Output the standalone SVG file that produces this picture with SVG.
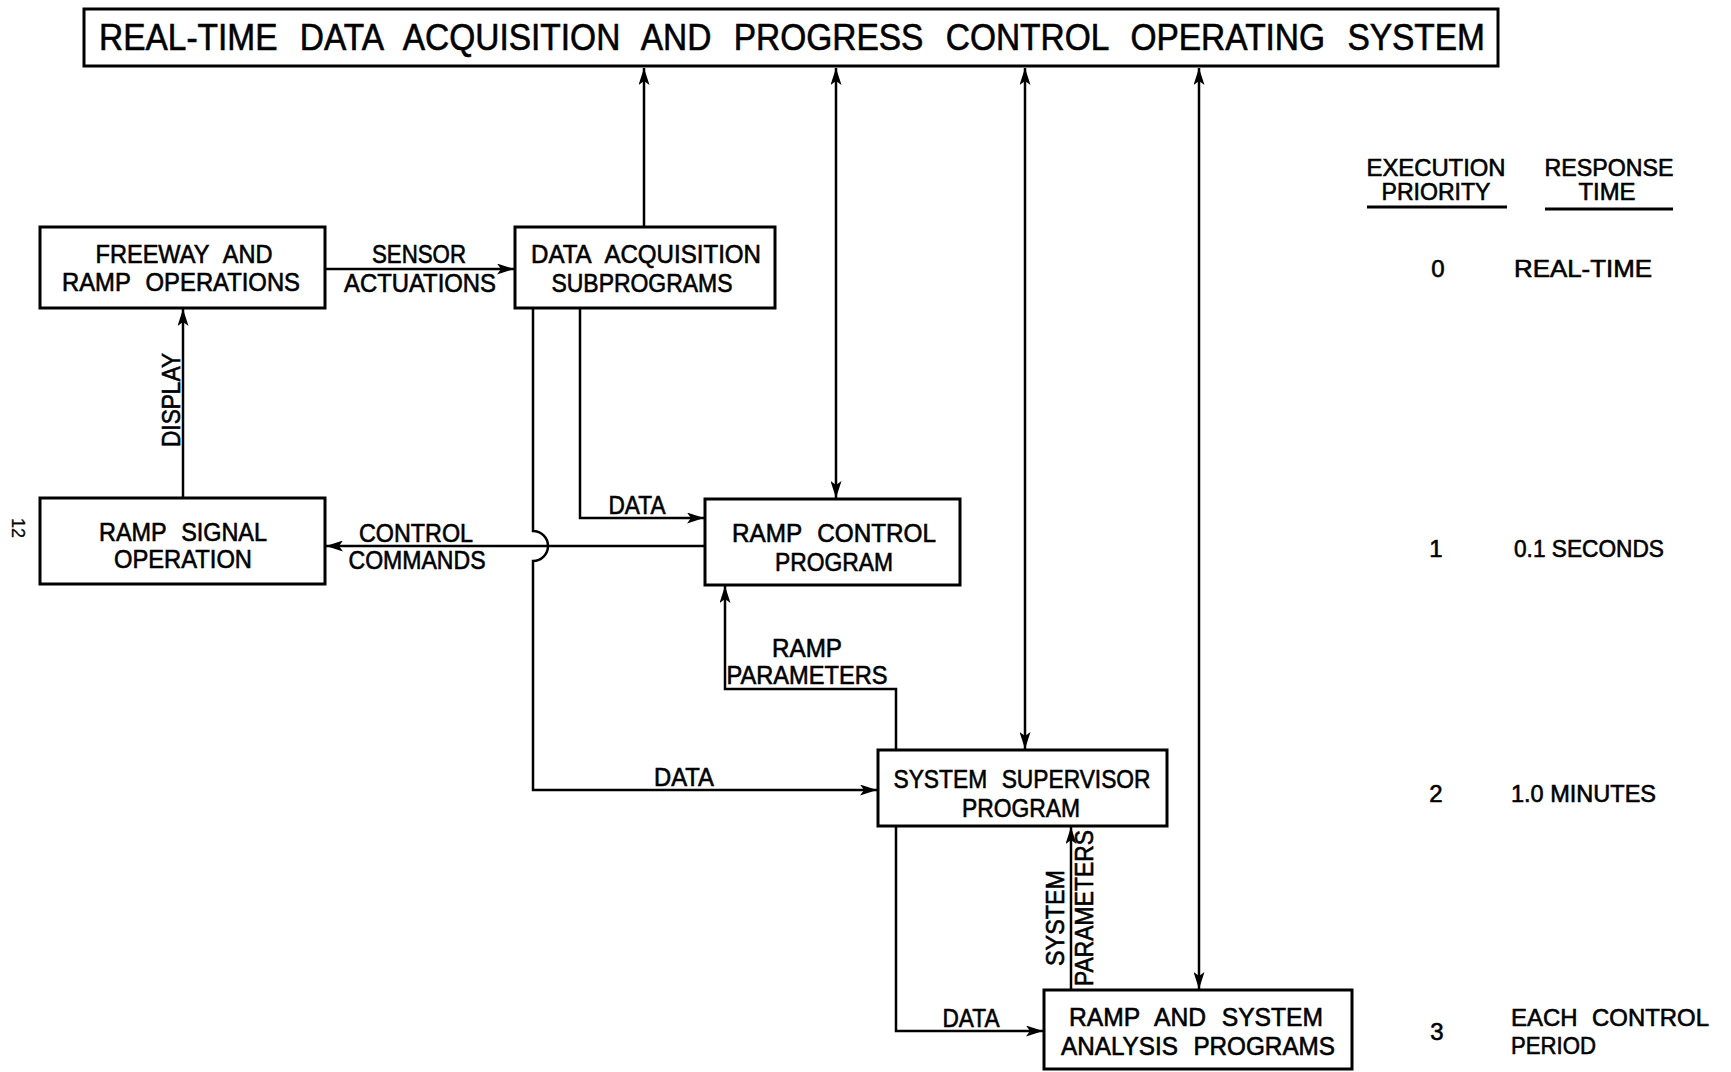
<svg xmlns="http://www.w3.org/2000/svg" width="1731" height="1072" viewBox="0 0 1731 1072">
  <style>
    .box { fill: #fff; stroke: #000; stroke-width: 3; }
    .ln { fill: none; stroke: #000; stroke-width: 2.5; }
    .rule { stroke: #000; stroke-width: 3; }
    text { font-family: "Liberation Sans", Arial, sans-serif; fill: #000; stroke: #000; stroke-width: 0.6; }
    .t { font-size: 25px; text-anchor: middle; word-spacing: 9px; }
    .title { font-size: 36px; text-anchor: middle; word-spacing: 14px; }
    .tb { font-size: 24px; word-spacing: 8px; }
    .tight { word-spacing: 0; }
    .mid { text-anchor: middle; }
    .pg { font-size: 18px; text-anchor: middle; stroke-width: 0.3; }
  </style>
  <defs>
    <marker id="ah" viewBox="0 0 17 11" refX="17" refY="5.5" markerWidth="17" markerHeight="11" markerUnits="userSpaceOnUse" orient="auto-start-reverse">
      <path d="M0,0 L17,5.5 L0,11 L4,5.5 z" fill="#000"/>
    </marker>
  </defs>

  <rect width="1731" height="1072" fill="#fff"/>

  <!-- connectors and their labels -->
  <g id="connectors">
    <path class="ln" d="M644,227 V68" marker-end="url(#ah)"/>
    <path class="ln" d="M836,68 V498" marker-start="url(#ah)" marker-end="url(#ah)"/>
    <path class="ln" d="M1025,68 V749" marker-start="url(#ah)" marker-end="url(#ah)"/>
    <path class="ln" d="M1199,68 V989" marker-start="url(#ah)" marker-end="url(#ah)"/>
    <path class="ln" d="M325,269 H514" marker-end="url(#ah)"/>
    <path class="ln" d="M183,498 V309" marker-end="url(#ah)"/>
    <path class="ln" d="M705,546 H326" marker-end="url(#ah)"/>
    <path class="ln" d="M533,308 V531 A15,15 0 0 1 533,561 V790 H877" marker-end="url(#ah)"/>
    <path class="ln" d="M580,308 V518 H704" marker-end="url(#ah)"/>
    <path class="ln" d="M896,750 V689 H725 V586" marker-end="url(#ah)"/>
    <path class="ln" d="M896,826 V1031 H1043" marker-end="url(#ah)"/>
    <path class="ln" d="M1071,990 V827" marker-end="url(#ah)"/>

    <text class="t" x="419" y="263" textLength="94" lengthAdjust="spacingAndGlyphs">SENSOR</text>
    <text class="t" x="420" y="292" textLength="152" lengthAdjust="spacingAndGlyphs">ACTUATIONS</text>
    <text class="t" transform="translate(180,400) rotate(-90)" textLength="94" lengthAdjust="spacingAndGlyphs">DISPLAY</text>
    <text class="t" x="416" y="542" textLength="114" lengthAdjust="spacingAndGlyphs">CONTROL</text>
    <text class="t" x="417" y="569" textLength="137" lengthAdjust="spacingAndGlyphs">COMMANDS</text>
    <text class="t" x="637" y="514" textLength="57" lengthAdjust="spacingAndGlyphs">DATA</text>
    <text class="t" x="807" y="657" textLength="70" lengthAdjust="spacingAndGlyphs">RAMP</text>
    <text class="t" x="807" y="684" textLength="161" lengthAdjust="spacingAndGlyphs">PARAMETERS</text>
    <text class="t" x="684" y="786" textLength="60" lengthAdjust="spacingAndGlyphs">DATA</text>
    <text class="t" x="971" y="1027" textLength="57" lengthAdjust="spacingAndGlyphs">DATA</text>
    <text class="t" transform="translate(1064,918) rotate(-90)" textLength="96" lengthAdjust="spacingAndGlyphs">SYSTEM</text>
    <text class="t" transform="translate(1093,908) rotate(-90)" textLength="156" lengthAdjust="spacingAndGlyphs">PARAMETERS</text>
  </g>

  <g id="operating-system">
    <rect class="box" x="84" y="9" width="1414" height="57"/>
    <text class="title" x="792" y="50" textLength="1386" lengthAdjust="spacingAndGlyphs">REAL-TIME DATA ACQUISITION AND PROGRESS CONTROL OPERATING SYSTEM</text>
  </g>

  <g id="freeway-ramp-operations">
    <rect class="box" x="40" y="227" width="285" height="81"/>
    <text class="t" x="184" y="263" textLength="177" lengthAdjust="spacingAndGlyphs">FREEWAY AND</text>
    <text class="t" x="181" y="291" textLength="238" lengthAdjust="spacingAndGlyphs">RAMP OPERATIONS</text>
  </g>

  <g id="data-acquisition">
    <rect class="box" x="515" y="227" width="260" height="81"/>
    <text class="t" x="646" y="263" textLength="230" lengthAdjust="spacingAndGlyphs">DATA ACQUISITION</text>
    <text class="t" x="642" y="292" textLength="181" lengthAdjust="spacingAndGlyphs">SUBPROGRAMS</text>
  </g>

  <g id="ramp-signal-operation">
    <rect class="box" x="40" y="498" width="285" height="86"/>
    <text class="t" x="183" y="541" textLength="168" lengthAdjust="spacingAndGlyphs">RAMP SIGNAL</text>
    <text class="t" x="183" y="568" textLength="138" lengthAdjust="spacingAndGlyphs">OPERATION</text>
  </g>

  <g id="ramp-control-program">
    <rect class="box" x="705" y="499" width="255" height="86"/>
    <text class="t" x="834" y="542" textLength="204" lengthAdjust="spacingAndGlyphs">RAMP CONTROL</text>
    <text class="t" x="834" y="571" textLength="118" lengthAdjust="spacingAndGlyphs">PROGRAM</text>
  </g>

  <g id="system-supervisor">
    <rect class="box" x="878" y="750" width="289" height="76"/>
    <text class="t" x="1022" y="788" textLength="257" lengthAdjust="spacingAndGlyphs">SYSTEM SUPERVISOR</text>
    <text class="t" x="1021" y="817" textLength="118" lengthAdjust="spacingAndGlyphs">PROGRAM</text>
  </g>

  <g id="analysis-programs">
    <rect class="box" x="1044" y="990" width="308" height="79"/>
    <text class="t" x="1196" y="1026" textLength="254" lengthAdjust="spacingAndGlyphs">RAMP AND SYSTEM</text>
    <text class="t" x="1198" y="1055" textLength="274" lengthAdjust="spacingAndGlyphs">ANALYSIS PROGRAMS</text>
  </g>

  <!-- priority / response-time table -->
  <g id="priority-table">
    <text class="tb mid" x="1436" y="176" textLength="139" lengthAdjust="spacingAndGlyphs">EXECUTION</text>
    <text class="tb mid" x="1436" y="200" textLength="109" lengthAdjust="spacingAndGlyphs">PRIORITY</text>
    <line class="rule" x1="1367" y1="207" x2="1507" y2="207"/>
    <text class="tb mid" x="1609" y="176" textLength="129" lengthAdjust="spacingAndGlyphs">RESPONSE</text>
    <text class="tb mid" x="1607" y="200" textLength="57" lengthAdjust="spacingAndGlyphs">TIME</text>
    <line class="rule" x1="1545" y1="209" x2="1673" y2="209"/>

    <text class="tb mid" x="1438" y="277">0</text>
    <text class="tb" x="1514" y="277" textLength="138" lengthAdjust="spacingAndGlyphs">REAL-TIME</text>
    <text class="tb mid" x="1436" y="557">1</text>
    <text class="tb tight" x="1514" y="557" textLength="150" lengthAdjust="spacingAndGlyphs">0.1 SECONDS</text>
    <text class="tb mid" x="1436" y="802">2</text>
    <text class="tb tight" x="1511" y="802" textLength="145" lengthAdjust="spacingAndGlyphs">1.0 MINUTES</text>
    <text class="tb mid" x="1437" y="1040">3</text>
    <text class="tb" x="1511" y="1026" textLength="198" lengthAdjust="spacingAndGlyphs">EACH CONTROL</text>
    <text class="tb" x="1511" y="1054" textLength="85" lengthAdjust="spacingAndGlyphs">PERIOD</text>
  </g>

  <g id="page-number">
    <text class="pg" transform="translate(12,528) rotate(90)">12</text>
  </g>
</svg>
